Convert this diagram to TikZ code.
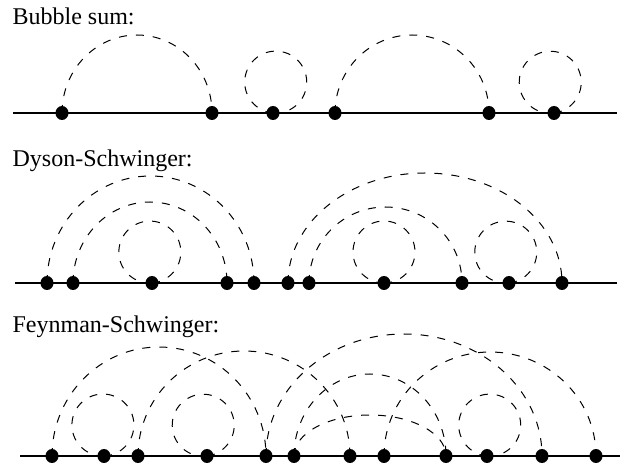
\documentclass[tikz,border=0pt]{standalone}
\usepackage{fontspec}
\setmainfont{Liberation Serif}
\usetikzlibrary{calc,shapes.geometric}
\tikzset{
    vtx/.style={ellipse,fill=black,inner sep=0pt,minimum width=13pt,minimum height=14pt},
    prop/.style={dash pattern=on 8pt off 9pt,line width=1pt},
    lbl/.style={anchor=base west,inner sep=0pt,font=\fontsize{24}{28}\selectfont},
}
\begin{document}
\begin{tikzpicture}[x=1pt,y=1pt,line width=1.3pt]
    \useasboundingbox (0,0) rectangle (625,464);

    % bubble sum
    \node[lbl] (tb) at (12,439) {Bubble sum:};
    \coordinate (bl) at (13,351);
    \coordinate (br) at (617,351);
    \draw (bl) -- (br);
    \foreach \n/\x in {1/62,2/212,3/273,4/335,5/489,6/554} {
        \node[vtx] (b\n) at (\x,351) {};
    }
    \foreach \a/\b/\h in {b1/b2/78,b4/b5/78} {
        \draw[prop] let \p1=(\a), \p2=(\b) in (\a.center) arc[start angle=180,end angle=0,x radius={(\x2-\x1)/2},y radius=\h pt];
    }
    \foreach \v/\t in {b3/-95,b6/-83} {
        \draw[prop] (\v.center) arc[start angle=\t,delta angle=360,radius=31pt];
    }

    % dyson-schwinger
    \node[lbl] (td) at (12,297) {Dyson-Schwinger:};
    \coordinate (dl) at (15,181);
    \coordinate (dr) at (617,181);
    \draw (dl) -- (dr);
    \foreach \n/\x in {1/47,2/73,3/152,4/227,5/254,6/288,7/309,8/384,9/462,10/509,11/562} {
        \node[vtx] (d\n) at (\x,181) {};
    }
    \foreach \a/\b/\h in {d1/d5/107,d2/d4/81,d6/d11/110,d7/d9/76} {
        \draw[prop] let \p1=(\a), \p2=(\b) in (\a.center) arc[start angle=180,end angle=0,x radius={(\x2-\x1)/2},y radius=\h pt];
    }
    \foreach \v/\t in {d3/-86,d8/-90,d10/-84} {
        \draw[prop] (\v.center) arc[start angle=\t,delta angle=360,radius=31pt];
    }

    % feynman-schwinger
    \node[lbl] (tf) at (12,131) {Feynman-Schwinger:};
    \coordinate (fl) at (20,8);
    \coordinate (fr) at (620,8);
    \draw (fl) -- (fr);
    \foreach \n/\x in {1/52,2/104,3/138,4/207,5/266,6/294,7/350,8/384,9/446,10/487,11/542,12/596} {
        \node[vtx] (f\n) at (\x,8) {};
    }
    \foreach \a/\b/\h in {f1/f5/109,f3/f7/105,f5/f11/122,f6/f9/82,f6/f9/41,f8/f12/104} {
        \draw[prop] let \p1=(\a), \p2=(\b) in (\a.center) arc[start angle=180,end angle=0,x radius={(\x2-\x1)/2},y radius=\h pt];
    }
    \foreach \v/\t in {f2/-88,f4/-83,f10/-95} {
        \draw[prop] (\v.center) arc[start angle=\t,delta angle=360,radius=31pt];
    }
\end{tikzpicture}
\end{document}
